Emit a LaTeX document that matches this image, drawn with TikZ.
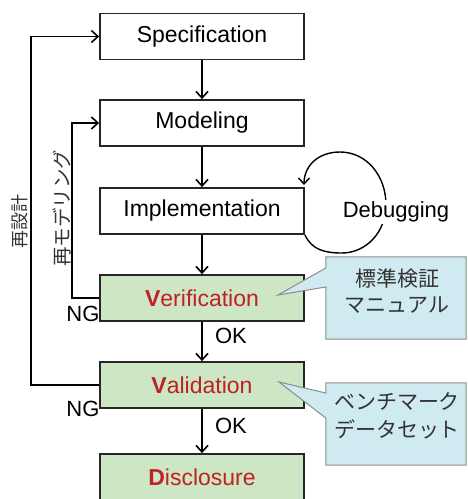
\documentclass[tikz,border=0pt]{standalone}
\usepackage{fontspec}
\setmainfont{Liberation Sans}
\newfontfamily\jpfont{Noto Sans CJK JP}
\usetikzlibrary{arrows.meta}
\definecolor{boxgreen}{RGB}{205,230,195}
\definecolor{txtred}{RGB}{192,32,38}
\definecolor{callblue}{RGB}{207,234,240}
\definecolor{callline}{RGB}{140,140,140}
\begin{document}
\begin{tikzpicture}[x=1pt,y=-1pt,
  stagebox/.style={draw=black!85, line width=1.8pt, minimum width=204pt, minimum height=46pt, inner sep=0pt, font=\fontsize{23}{27}\selectfont},
  greenbox/.style={stagebox, fill=boxgreen, text=txtred},
  flow/.style={line width=1.6pt, -{Straight Barb[length=6.5pt,width=12pt]}},
  lbl/.style={inner sep=0pt, font=\fontsize{22}{26}\selectfont},
  jplbl/.style={inner sep=0pt, text=black!80, font=\jpfont\fontsize{21}{26}\selectfont, align=center},
  callshape/.style={fill=callblue, draw=callline, line width=1pt},
  hold/.style={inner sep=0pt, minimum width=140pt, minimum height=82pt}
]
\useasboundingbox (0,0) rectangle (468,499);

% stages
\node[stagebox] (spec)  at (202,36.5) {Specification};
\node[stagebox] (model) at (202,123)  {Modeling};
\node[stagebox] (impl)  at (202,211)  {Implementation};
\node[greenbox] (verif) at (202,298)  {{\bfseries V}erification};
\node[greenbox] (valid) at (202,385)  {{\bfseries V}alidation};
\node[greenbox] (discl) at (202,477)  {{\bfseries D}isclosure};

% main flow
\draw[flow] (spec) -- (model);
\draw[flow] (model) -- (impl);
\draw[flow] (impl) -- (verif);
\draw[flow] (verif) -- (valid);
\draw[flow] (valid) -- (discl);

% feedback loops
\draw[flow] (valid.west) -- ++(-68,0) |- (spec.west);
\draw[flow] (verif.west) -- ++(-27,0) |- (model.west);

% labels
\node[lbl] (ok1) at (231,336) {OK};
\node[lbl] (ok2) at (231,426) {OK};
\node[lbl] (ng1) at (83,314) {NG};
\node[lbl] (ng2) at (83,409) {NG};
\node[jplbl, rotate=90, font=\jpfont\fontsize{18}{20}\selectfont] (redesign) at (20,221) {再設計};
\node[jplbl, rotate=90, font=\jpfont\fontsize{19.5}{22}\selectfont] (remodel) at (62,208) {再モデリング};

% debugging loop
\draw[line width=1.4pt, -{Straight Barb[length=6pt,width=11pt]}]
  (impl.south east) .. controls (312,250) and (325,253) .. (342,253)
  .. controls (366,253) and (386,232) .. (386,205)
  .. controls (386,175) and (366,152) .. (340,152)
  .. controls (318,152) and (304,166) .. (304,185);
\node[lbl, fill=white, inner sep=2pt] (debug) at (396,212) {Debugging};

% callout 1
\node[hold] (cb1) at (396,298) {};
\coordinate (tip1) at (278,295);
\draw[callshape] (cb1.north west) -- (cb1.north east) -- (cb1.south east) -- (cb1.south west)
  -- (cb1.west |- 0,287) -- (tip1) -- (cb1.west |- 0,268) -- cycle;
\node[jplbl] (manual) at (397,291) {標準検証\\マニュアル};

% callout 2
\node[hold] (cb2) at (396,424) {};
\coordinate (tip2) at (279,382);
\draw[callshape] (cb2.north west) -- (cb2.north east) -- (cb2.south east) -- (cb2.south west)
  -- (cb2.west |- 0,418) -- (tip2) -- (cb2.west |- 0,393) -- cycle;
\node[jplbl, font=\jpfont\fontsize{21}{28}\selectfont] (bench) at (397,416) {ベンチマーク\\データセット};
\end{tikzpicture}
\end{document}
